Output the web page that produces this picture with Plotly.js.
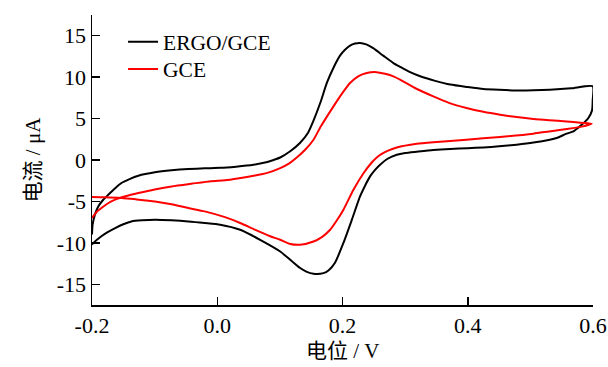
<!DOCTYPE html>
<html>
<head>
<meta charset="utf-8">
<script src="https://cdn.plot.ly/plotly-3.0.1.min.js"></script>
<style>html,body{margin:0;padding:0;background:#fff;}#chart{width:608px;height:367px;}</style>
</head>
<body>
<div id="chart"></div>
<script>
// ERGO/GCE (black) cyclic voltammogram: forward then reverse scan
const ergoX = [-0.2, -0.199, -0.195, -0.19, -0.182, -0.174, -0.163, -0.153, -0.14, -0.126, -0.0995, -0.073, -0.046, -0.02, 0.0048, 0.03, 0.058, 0.08, 0.09, 0.1005, 0.1165, 0.132, 0.145, 0.1537, 0.165, 0.175, 0.186, 0.196, 0.204, 0.212, 0.22, 0.228, 0.238, 0.249, 0.265, 0.2813, 0.292, 0.308, 0.324, 0.348, 0.372, 0.40, 0.425, 0.45, 0.478, 0.505, 0.531, 0.565, 0.5995,
  0.5995, 0.5985, 0.5926, 0.587, 0.579, 0.5686, 0.558, 0.542, 0.531, 0.505, 0.478, 0.45, 0.425, 0.40, 0.372, 0.345, 0.3185, 0.3, 0.2867, 0.272, 0.26, 0.252, 0.244, 0.236, 0.228, 0.215, 0.2015, 0.188, 0.178, 0.1696, 0.1537, 0.143, 0.1324, 0.1165, 0.1005, 0.0685, 0.0366, 0.0048, -0.02, -0.0463, -0.073, -0.0995, -0.12, -0.137, -0.15, -0.163, -0.175, -0.185, -0.193, -0.2];
const ergoY = [-9.0, -7.8, -6.5, -5.6, -4.8, -4.19, -3.4, -2.78, -2.3, -1.9, -1.49, -1.25, -1.09, -1.0, -0.95, -0.8, -0.57, -0.25, 0.0, 0.3, 1.05, 2.05, 3.3, 4.75, 7.0, 9.3, 11.2, 12.6, 13.3, 13.8, 14.05, 14.13, 13.95, 13.5, 12.6, 11.7, 11.25, 10.6, 10.1, 9.55, 9.1, 8.8, 8.57, 8.47, 8.4, 8.42, 8.49, 8.65, 8.89,
  7.2, 6.0, 5.07, 4.6, 4.06, 3.45, 3.18, 2.66, 2.45, 2.1, 1.85, 1.65, 1.52, 1.42, 1.33, 1.2, 1.0, 0.85, 0.64, 0.15, -0.57, -1.2, -1.98, -3.1, -4.4, -7.2, -10.0, -12.4, -13.3, -13.65, -13.73, -13.5, -13.04, -12.04, -11.04, -9.63, -8.42, -7.81, -7.6, -7.41, -7.28, -7.21, -7.28, -7.41, -7.75, -8.21, -8.7, -9.2, -9.7, -10.2];

// GCE (red) cyclic voltammogram
const gceX = [-0.2, -0.193, -0.185, -0.175, -0.163, -0.145, -0.126, -0.1, -0.073, -0.04, -0.01, 0.0123, 0.035, 0.058, 0.08, 0.1005, 0.115, 0.127, 0.14, 0.1537, 0.165, 0.1856, 0.2, 0.212, 0.225, 0.2387, 0.2546, 0.268, 0.2813, 0.292, 0.318, 0.345, 0.37, 0.398, 0.425, 0.4516, 0.478, 0.5048, 0.53, 0.558, 0.58, 0.598,
  0.58, 0.558, 0.53, 0.5048, 0.4516, 0.398, 0.345, 0.3185, 0.2867, 0.272, 0.262, 0.2547, 0.245, 0.2335, 0.2175, 0.2015, 0.19, 0.1803, 0.167, 0.1537, 0.1324, 0.115, 0.1005, 0.0845, 0.06, 0.0366, 0.0123, -0.02, -0.046, -0.073, -0.0995, -0.13, -0.153, -0.18, -0.2];
const gceY = [-7.0, -6.3, -5.8, -5.25, -4.79, -4.35, -3.99, -3.55, -3.19, -2.85, -2.55, -2.45, -2.2, -1.9, -1.55, -0.97, -0.4, 0.3, 1.2, 2.45, 4.0, 6.47, 8.1, 9.3, 10.1, 10.5, 10.6, 10.4, 10.1, 9.7, 8.6, 7.68, 6.9, 6.28, 5.82, 5.47, 5.18, 4.95, 4.8, 4.66, 4.5, 4.38,
  4.0, 3.74, 3.45, 3.18, 2.78, 2.45, 2.15, 1.95, 1.5, 1.1, 0.7, 0.3, -0.45, -1.6, -3.59, -6.0, -7.4, -8.42, -9.3, -9.83, -10.23, -10.1, -9.63, -9.2, -8.4, -7.6, -6.9, -6.2, -5.8, -5.35, -5.0, -4.75, -4.59, -4.5, -4.47];

const xTickVals = [-0.2, 0.0, 0.2, 0.4, 0.6];
const xTickText = ["-0.2", "0.0", "0.2", "0.4", "0.6"];
const yTickVals = [-15, -10, -5, 0, 5, 10, 15];
const yTickText = ["-15", "-10", "-5", "0", "5", "10", "15"];
const xTitle = '电位 / V';
const yTitle = '电流 / μA';

const FONT = "'Liberation Serif', 'Times New Roman', 'Noto Sans CJK SC', serif";

const traces = [
  {x: ergoX, y: ergoY, type: 'scatter', mode: 'lines', name: 'ERGO/GCE', legend: 'legend',
   line: {color: '#000000', width: 2, shape: 'spline', smoothing: 0.6}},
  {x: gceX, y: gceY, type: 'scatter', mode: 'lines', name: 'GCE', legend: 'legend2',
   line: {color: '#ff0000', width: 2, shape: 'spline', smoothing: 0.6}}
];

const legendFont = {family: FONT, size: 21.5, color: '#000'};

const layout = {
  width: 608, height: 367,
  margin: {l: 92, r: 15, t: 15, b: 62},
  paper_bgcolor: '#ffffff', plot_bgcolor: '#ffffff',
  font: {family: FONT, size: 22, color: '#000000'},
  showlegend: true,
  legend: {x: 0.062, y: 0.908, xanchor: 'left', yanchor: 'middle', bgcolor: 'rgba(0,0,0,0)', font: legendFont},
  legend2: {x: 0.062, y: 0.814, xanchor: 'left', yanchor: 'middle', bgcolor: 'rgba(0,0,0,0)', font: legendFont},
  annotations: [
    {text: xTitle, xref: 'paper', yref: 'paper', x: 0.5, y: 0, xanchor: 'center', yanchor: 'top',
     yshift: -33, borderpad: 0, showarrow: false, font: {family: FONT, size: 21, color: '#000'}}
  ],
  xaxis: {
    range: [-0.2, 0.6], showgrid: false, zeroline: false,
    showline: true, linecolor: '#000', linewidth: 1.5, mirror: false,
    ticks: 'inside', ticklen: 8, tickwidth: 1.5, tickcolor: '#000',
    tickvals: xTickVals, ticktext: xTickText,
    tickfont: {family: FONT, size: 22},
    automargin: false
  },
  yaxis: {
    range: [-17.5, 17.5], showgrid: false, zeroline: false,
    showline: true, linecolor: '#000', linewidth: 1.5, mirror: false,
    ticks: 'inside', ticklen: 8, tickwidth: 1.5, tickcolor: '#000',
    tickvals: yTickVals, ticktext: yTickText,
    tickfont: {family: FONT, size: 22},
    title: {text: yTitle, font: {family: FONT, size: 21}},
    automargin: false
  }
};

Plotly.newPlot('chart', traces, layout, {staticPlot: true, displayModeBar: false});
</script>
</body>
</html>
